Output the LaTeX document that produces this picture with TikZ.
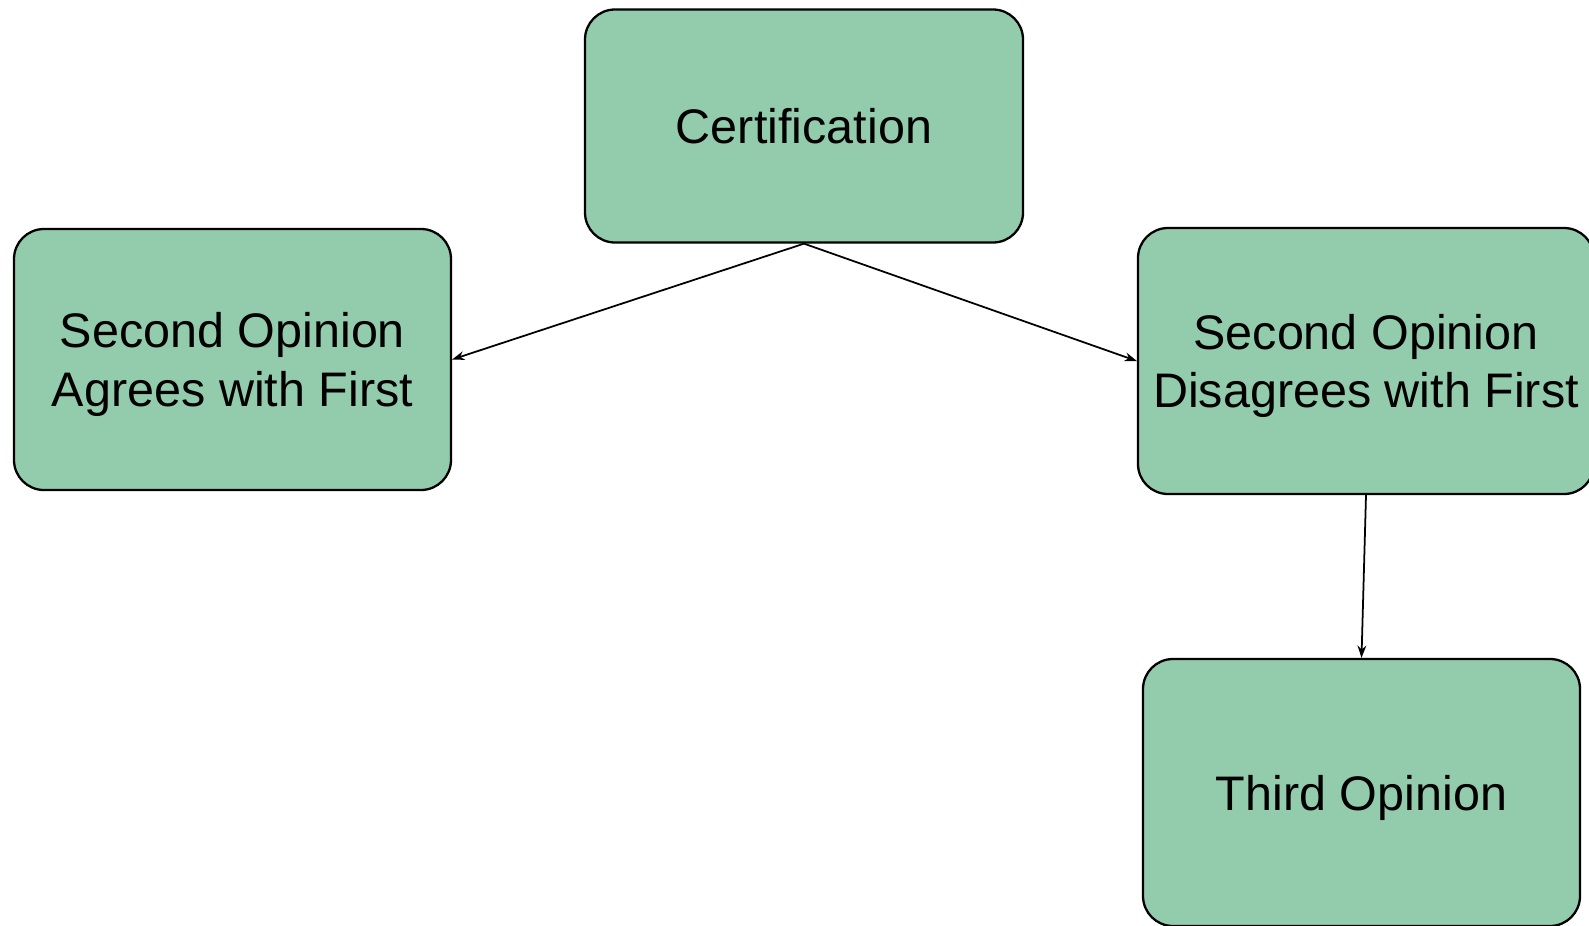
\documentclass[tikz,border=0pt]{standalone}
\usepackage{fontspec}
\setmainfont{Liberation Sans}
\usepackage{tikz}
\usetikzlibrary{arrows.meta}

\definecolor{boxgreen}{RGB}{147,204,172}

\tikzset{
    opinionbox/.style={draw, line width=1.3pt, fill=boxgreen, rounded corners=0.6cm,
        align=center, inner sep=0pt, font=\fontsize{27.6}{33.2}\selectfont},
    flowarrow/.style={-{Stealth[length=7pt,width=5pt]}, line width=1pt}
}

\begin{document}
\begin{tikzpicture}

        \useasboundingbox (0,0) rectangle (31.78,-18.5);

        % Top box
        \node[opinionbox, minimum width=8.76cm, minimum height=4.66cm] (cert) at (16.08,-2.52) {Certification};

        % Second opinions
        \node[opinionbox, minimum width=8.74cm, minimum height=5.22cm, text depth=-2.5pt] (agree) at (4.65,-7.19) {Second Opinion\\Agrees with First};
        \node[opinionbox, minimum width=9.12cm, minimum height=5.32cm, text depth=-2.5pt] (disagree) at (27.32,-7.22) {Second Opinion\\Disagrees with First};

        % Third opinion
        \node[opinionbox, minimum width=8.74cm, minimum height=5.34cm, text depth=-2.5pt] (third) at (27.23,-15.85) {Third Opinion};

        % Arrows
        \draw[flowarrow] (cert.south) -- (agree.east);
        \draw[flowarrow] (cert.south) -- (disagree.west);
        \draw[flowarrow] (disagree.south) -- (third.north);

\end{tikzpicture}
\end{document}
